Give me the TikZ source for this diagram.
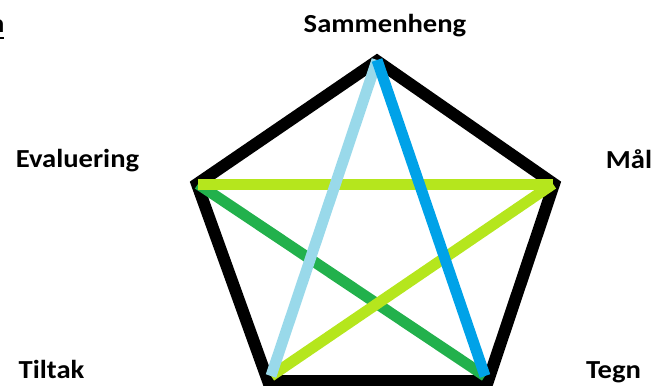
\documentclass[tikz,border=0pt]{standalone}
\usepackage{fontspec}
\setmainfont{Carlito}
\usepackage{graphicx}
\definecolor{lblue}{HTML}{99D9EA}
\definecolor{dblue}{HTML}{00A2E8}
\definecolor{lime}{HTML}{B5E61D}
\definecolor{pgreen}{HTML}{22B14C}
\tikzset{
  lbl/.style={anchor=base, inner sep=0pt, font=\fontsize{26}{30}\selectfont\bfseries},
  outline/.style={draw=black, line width=12pt, line join=miter},
  diag/.style={line width=11pt}
}
\newcommand{\wide}[1]{\scalebox{1.1}[1]{#1}}
\begin{document}
\begin{tikzpicture}[x=1pt,y=-1pt]
\useasboundingbox (0,0) rectangle (652,385);
% outline vertices
\coordinate (bT) at (377,61);
\coordinate (bL) at (197,184);
\coordinate (bR) at (554,184);
\coordinate (bBL) at (268,381);
\coordinate (bBR) at (488,381);
% diagonal end points
\coordinate (T) at (377,60);
\coordinate (L) at (198,184);
\coordinate (R) at (553,184);
\coordinate (BL) at (271,376);
\coordinate (BR) at (485,376);
\draw[outline] (bT) -- (bR) -- (bBR) -- (bBL) -- (bL) -- cycle;
\draw[diag, pgreen] (L) -- (BR);
\draw[diag, lime] (L) -- (R);
\draw[diag, lime] (R) -- (BL);
\draw[diag, lblue] (T) -- (BL);
\draw[diag, dblue] (T) -- (BR);
% labels
\node[lbl] (sam) at (385,33) {\wide{Sammenheng}};
\node[lbl] (eva) at (77.5,167) {\wide{Evaluering}};
\node[lbl] (mal) at (629,168) {\wide{Mål}};
\node[lbl] (til) at (51.5,378) {\wide{Tiltak}};
\node[lbl] (teg) at (613.5,378) {\wide{Tegn}};
% cut-off heading fragment
\node[lbl, anchor=base east] (frag) at (4.6,33) {\wide{n}};
\coordinate (u1) at (-12,37.8);
\coordinate (u2) at (4,37.8);
\draw[line width=2.3pt] (u1) -- (u2);
\end{tikzpicture}
\end{document}
